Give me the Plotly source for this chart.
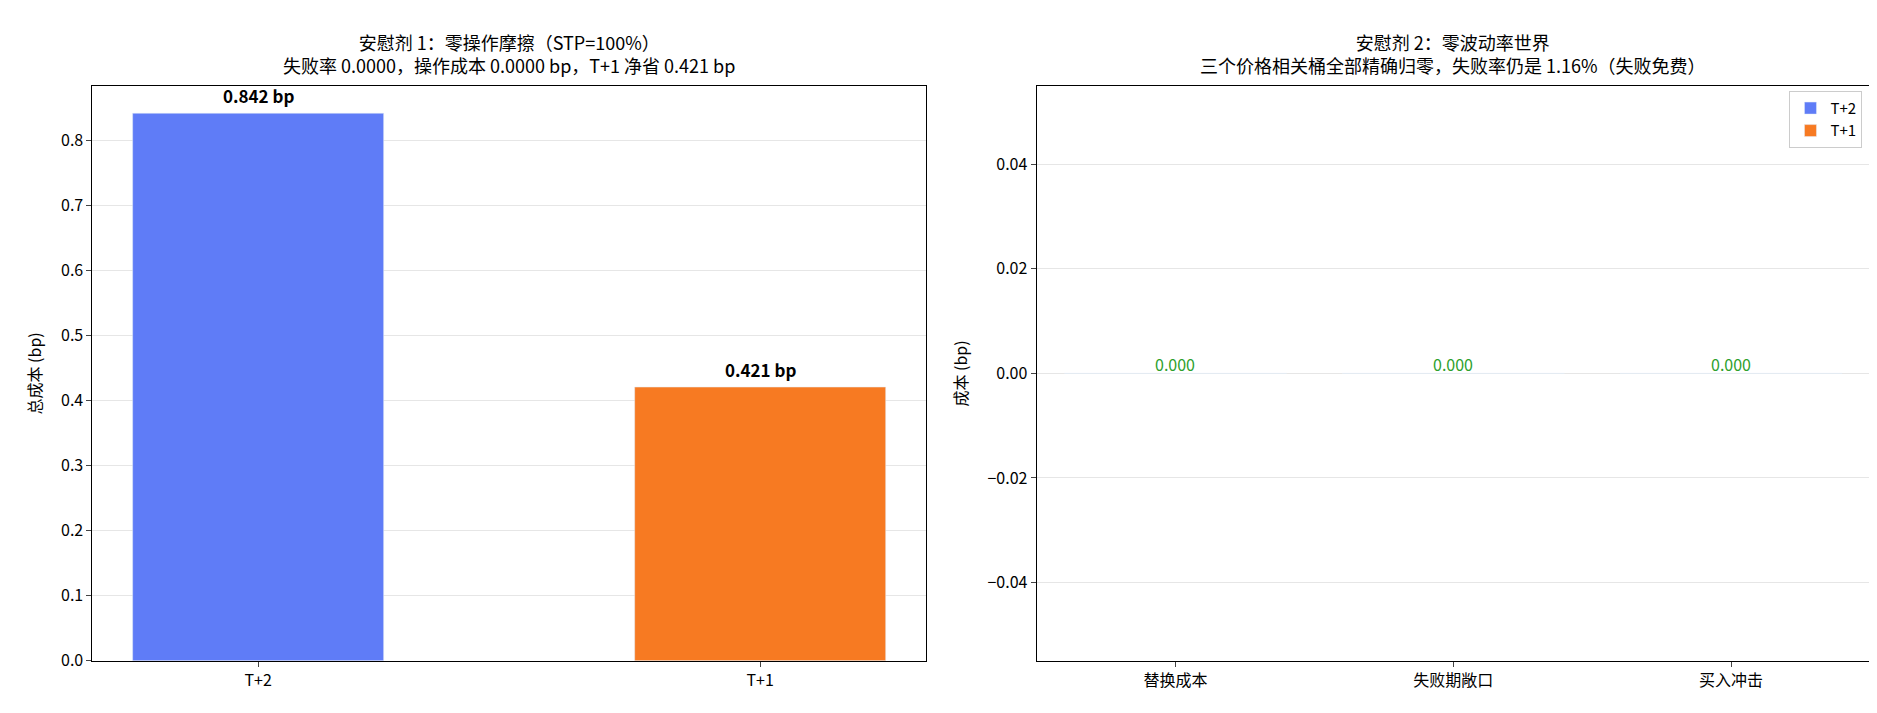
import plotly.graph_objects as go
from plotly.subplots import make_subplots

left_cats = ["T+2", "T+1"]
left_vals = [0.842, 0.421]
left_labels = ["0.842 bp", "0.421 bp"]

right_cats = ["替换成本", "失败期敞口", "买入冲击"]
right_t2 = [0.0, 0.0, 0.0]
right_t1 = [0.0, 0.0, 0.0]
right_labels = ["0.000", "0.000", "0.000"]

BLUE = "#5f7cf7"
ORANGE = "#f77a22"
FONT = "Noto Sans CJK SC"

fig = make_subplots(rows=1, cols=2)

fig.add_trace(go.Bar(x=left_cats, y=left_vals, marker_color=[BLUE, ORANGE],
                     width=0.5, showlegend=False), 1, 1)
for c, v, t in zip(left_cats, left_vals, left_labels):
    fig.add_annotation(x=c, y=v, text="<b>" + t + "</b>", showarrow=False,
                       yshift=18, font=dict(size=17, color="black"), xref="x", yref="y")

fig.add_trace(go.Bar(x=right_cats, y=right_t2, name="T+2", marker_color=BLUE), 1, 2)
fig.add_trace(go.Bar(x=right_cats, y=right_t1, name="T+1", marker_color=ORANGE), 1, 2)
for c, t in zip(right_cats, right_labels):
    fig.add_annotation(x=c, y=0, text=t, showarrow=False, yshift=9,
                       font=dict(size=16, color="#2ca02c"), xref="x2", yref="y2")

titles = [
    (0.267, "安慰剂 1：零操作摩擦（STP=100%）<br>失败率 0.0000，操作成本 0.0000 bp，T+1 净省 0.421 bp"),
    (0.770, "安慰剂 2：零波动率世界<br>三个价格相关桶全部精确归零，失败率仍是 1.16%（失败免费）"),
]
for x, t in titles:
    fig.add_annotation(x=x, y=0.897, xref="paper", yref="paper", text=t, showarrow=False,
                       align="center", xanchor="center", yanchor="bottom",
                       font=dict(size=18, color="black"))

axis_common = dict(showline=True, linecolor="black", mirror=True, ticks="outside",
                   tickfont=dict(size=16, color="black"))
fig.update_xaxes(**axis_common, showgrid=False)
fig.update_yaxes(**axis_common, showgrid=True, gridcolor="#e6e6e6", zeroline=False)
fig.update_layout(
    xaxis=dict(domain=[0.045, 0.489], range=[-0.33, 1.33]),
    xaxis2=dict(domain=[0.548, 0.992]),
    yaxis=dict(domain=[0.07, 0.889], range=[0, 0.884], dtick=0.1, tickformat=".1f",
               title=dict(text="总成本 (bp)", font=dict(size=16, color="black"))),
    yaxis2=dict(domain=[0.07, 0.889], range=[-0.055, 0.055], dtick=0.02, tickformat=".2f",
                title=dict(text="成本 (bp)", font=dict(size=16, color="black"))),
    legend=dict(x=0.988, y=0.882, xanchor="right", yanchor="top", bordercolor="#cccccc",
                borderwidth=1, font=dict(size=15)),
    barmode="group",
    font=dict(family=FONT, color="black"),
    plot_bgcolor="white", paper_bgcolor="white",
    margin=dict(l=0, r=0, t=0, b=0),
    width=1877, height=713,
)
fig.write_html("out.html")
